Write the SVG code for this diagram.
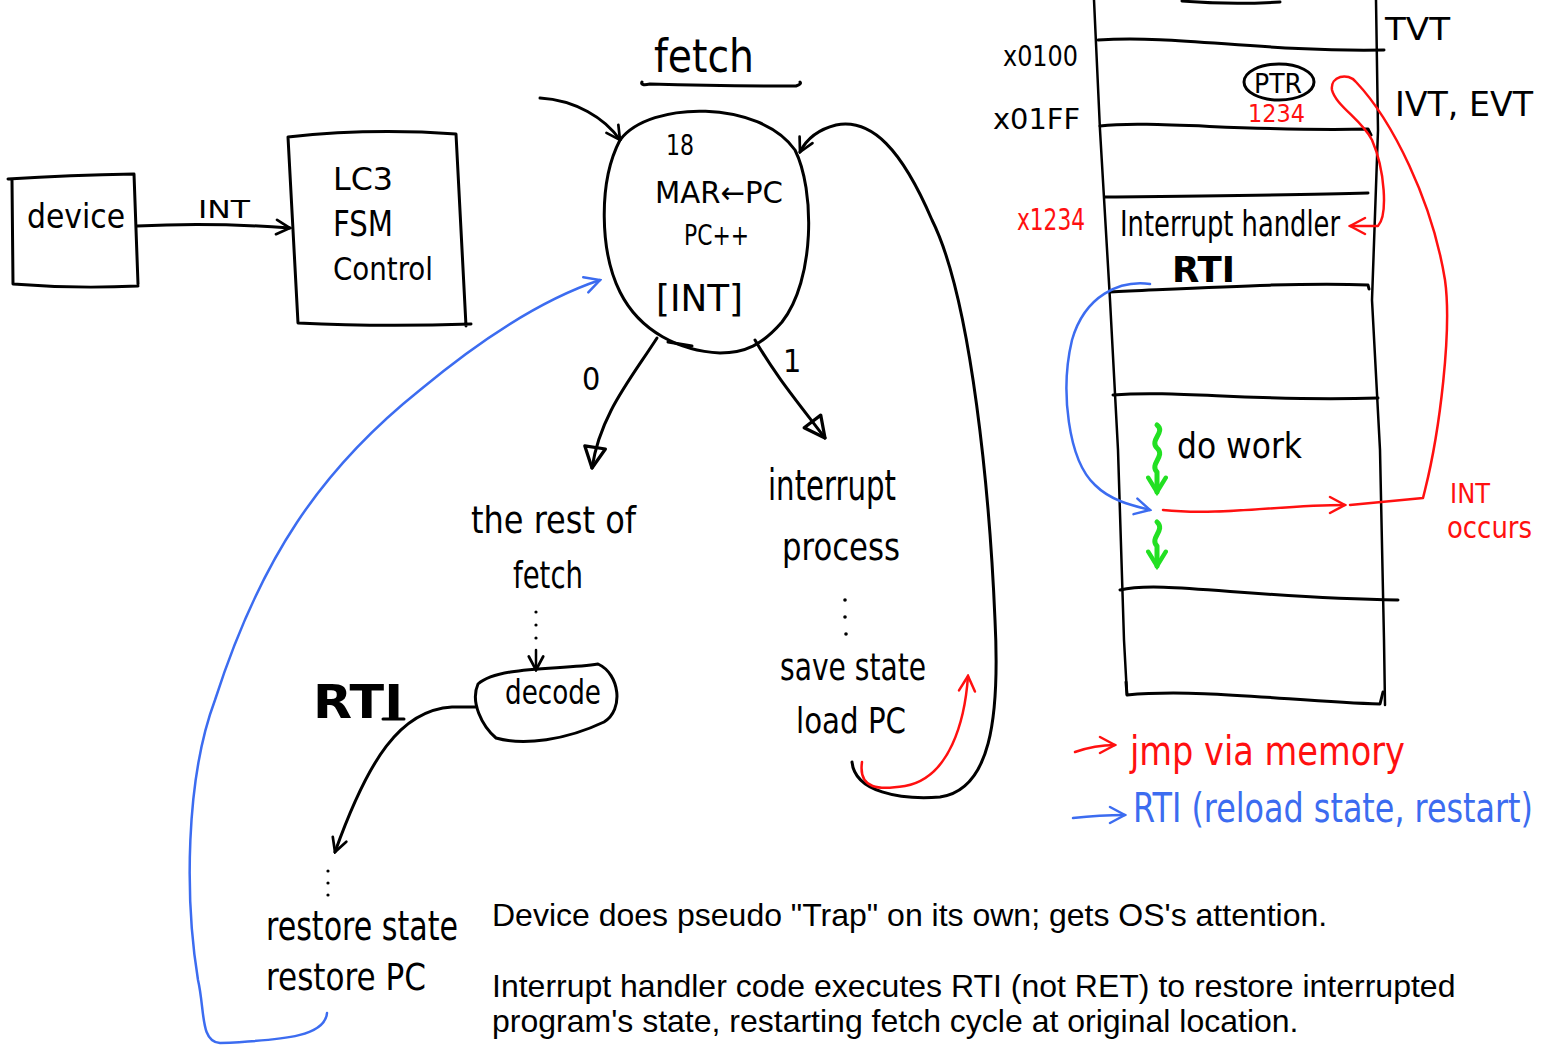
<svg xmlns="http://www.w3.org/2000/svg" width="1567" height="1046" viewBox="0 0 1567 1046">
  <defs>
    <style>
      .ink { fill: none; stroke: #000; stroke-width: 3; stroke-linecap: round; stroke-linejoin: round; }
      .thin { fill: none; stroke: #000; stroke-width: 2.5; stroke-linecap: round; stroke-linejoin: round; }
      .red { fill: none; stroke: #ff1010; stroke-width: 2.5; stroke-linecap: round; stroke-linejoin: round; }
      .blue { fill: none; stroke: #3c6cf0; stroke-width: 2.5; stroke-linecap: round; stroke-linejoin: round; }
      .green { fill: none; stroke: #22e022; stroke-width: 5; stroke-linecap: round; stroke-linejoin: round; }
      .dot { fill: #000; }
      .hand { font-family: "DejaVu Sans Condensed", "Liberation Sans", sans-serif; fill: #000; }
      .handr { font-family: "DejaVu Sans Condensed", "Liberation Sans", sans-serif; fill: #ff1010; }
      .handb { font-family: "DejaVu Sans Condensed", "Liberation Sans", sans-serif; fill: #3c6cf0; }
      .bold { font-weight: bold; }
      .typed { font-family: "Liberation Sans", Arial, sans-serif; font-size: 32px; fill: #000; }
    </style>
    <marker id="ah" viewBox="0 0 20 20" refX="18" refY="10" markerWidth="18" markerHeight="18" markerUnits="userSpaceOnUse" orient="auto">
      <path d="M3,2 L18,10 L3,18" fill="none" stroke="#000" stroke-width="3" stroke-linecap="round"/>
    </marker>
    <marker id="tri" viewBox="0 0 20 20" refX="18" refY="10" markerWidth="26" markerHeight="26" markerUnits="userSpaceOnUse" orient="auto">
      <path d="M2,2 L18,10 L2,18 Z" fill="none" stroke="#000" stroke-width="2.5" stroke-linejoin="round"/>
    </marker>
    <marker id="ahr" viewBox="0 0 20 20" refX="18" refY="10" markerWidth="20" markerHeight="20" markerUnits="userSpaceOnUse" orient="auto">
      <path d="M3,2 L18,10 L3,18" fill="none" stroke="#ff1010" stroke-width="2.5" stroke-linecap="round"/>
    </marker>
    <marker id="ahb" viewBox="0 0 20 20" refX="18" refY="10" markerWidth="20" markerHeight="20" markerUnits="userSpaceOnUse" orient="auto">
      <path d="M3,2 L18,10 L3,18" fill="none" stroke="#3c6cf0" stroke-width="2.5" stroke-linecap="round"/>
    </marker>
    <marker id="ahg" viewBox="0 0 20 20" refX="16" refY="10" markerWidth="22" markerHeight="22" markerUnits="userSpaceOnUse" orient="auto">
      <path d="M3,2 L16,10 L3,18" fill="none" stroke="#22e022" stroke-width="4" stroke-linecap="round"/>
    </marker>
  </defs>

  <rect width="1567" height="1046" fill="#fff"/>

  <!-- device box -->
  <g id="device">
    <path class="ink" d="M 8 179 Q 70 175 134 174 L 138 284 M 12 180 L 13 284 Q 75 289 138 286"/>
    <text class="hand" x="27" y="228" font-size="34" textLength="98" lengthAdjust="spacingAndGlyphs">device</text>
  </g>

  <!-- LC3 FSM control box -->
  <g id="lc3">
    <path class="ink" d="M 288 137 Q 370 128 456 134 L 466 326 M 288 137 L 298 323 Q 380 327 471 324"/>
    <text class="hand" x="333" y="190" font-size="32" textLength="60" lengthAdjust="spacingAndGlyphs">LC3</text>
    <text class="hand" x="333" y="236" font-size="36" textLength="60" lengthAdjust="spacingAndGlyphs">FSM</text>
    <text class="hand" x="333" y="280" font-size="32" textLength="100" lengthAdjust="spacingAndGlyphs">Control</text>
  </g>

  <!-- fetch state -->
  <g id="fetch">
    <text class="hand" x="654" y="72" font-size="46" textLength="100" lengthAdjust="spacingAndGlyphs">fetch</text>
    <path class="ink" d="M 642 82 Q 640 86 650 84 Q 720 86 796 86 Q 802 84 800 82"/>
    <path class="ink" d="M 620 140 C 650 100, 760 100, 795 150 C 815 190, 815 280, 782 322 C 762 345, 745 353, 720 353 C 680 351, 640 332, 620 292 C 600 252, 598 182, 620 140 Z"/>
    <path class="ink" d="M 668 342 L 692 346"/>
    <text class="hand" x="666" y="155" font-size="28" textLength="28" lengthAdjust="spacingAndGlyphs">18</text>
    <text class="hand" x="655" y="203" font-size="30" textLength="128" lengthAdjust="spacingAndGlyphs">MAR←PC</text>
    <text class="hand" x="684" y="245" font-size="28" textLength="65" lengthAdjust="spacingAndGlyphs">PC++</text>
    <text class="hand" x="656" y="311" font-size="38" textLength="87" lengthAdjust="spacingAndGlyphs">[INT]</text>
  </g>

  <!-- branch labels and follow-on states -->
  <g id="branch0">
    <text class="hand" x="582" y="390" font-size="32">0</text>
    <text class="hand" x="471" y="533" font-size="38" textLength="165" lengthAdjust="spacingAndGlyphs">the rest of</text>
    <text class="hand" x="513" y="588" font-size="38" textLength="70" lengthAdjust="spacingAndGlyphs">fetch</text>
  </g>

  <g id="branch1">
    <text class="hand" x="783" y="372" font-size="32">1</text>
    <text class="hand" x="768" y="500" font-size="42" textLength="128" lengthAdjust="spacingAndGlyphs">interrupt</text>
    <text class="hand" x="782" y="560" font-size="38" textLength="118" lengthAdjust="spacingAndGlyphs">process</text>
    <circle class="dot" cx="845" cy="600" r="1.8"/>
    <circle class="dot" cx="845" cy="617" r="1.8"/>
    <circle class="dot" cx="846" cy="634" r="1.8"/>
    <text class="hand" x="780" y="680" font-size="38" textLength="146" lengthAdjust="spacingAndGlyphs">save state</text>
    <text class="hand" x="796" y="733" font-size="36" textLength="110" lengthAdjust="spacingAndGlyphs">load PC</text>
  </g>

  <g id="decode">
    <path class="ink" d="M 478 684 C 498 666, 560 670, 598 664 C 620 674, 624 710, 604 722 C 566 740, 524 746, 496 738 C 482 726, 470 702, 478 684 Z"/>
    <text class="hand" x="505" y="704" font-size="34" textLength="96" lengthAdjust="spacingAndGlyphs">decode</text>
  </g>

  <g id="rti-label">
    <text class="hand bold" x="313" y="718" font-size="46" textLength="90" lengthAdjust="spacingAndGlyphs">RTI</text>
    <path class="ink" d="M 383 719 L 404 719"/>
  </g>

  <g id="restore">
    <circle class="dot" cx="328" cy="871" r="1.6"/>
    <circle class="dot" cx="328" cy="883" r="1.6"/>
    <circle class="dot" cx="328" cy="895" r="1.6"/>
    <text class="hand" x="266" y="940" font-size="40" textLength="192" lengthAdjust="spacingAndGlyphs">restore state</text>
    <text class="hand" x="266" y="990" font-size="38" textLength="160" lengthAdjust="spacingAndGlyphs">restore PC</text>
  </g>

  <!-- explanatory notes -->
  <g id="notes">
    <text class="typed" x="492" y="926">Device does pseudo "Trap" on its own; gets OS's attention.</text>
    <text class="typed" x="492" y="997">Interrupt handler code executes RTI (not RET) to restore interrupted</text>
    <text class="typed" x="492" y="1032">program's state, restarting fetch cycle at original location.</text>
  </g>

  <!-- memory map -->
  <g id="memory">
    <path class="thin" d="M 1094 0 L 1100 130 L 1110 300 L 1118 450 L 1124 640 L 1127 695"/>
    <path class="thin" d="M 1376 0 L 1378 130 L 1372 300 L 1380 450 L 1384 640 L 1385 705"/>
    <path class="ink" d="M 1182 1 Q 1230 5 1280 2"/>
    <path class="ink" d="M 1098 40 C 1180 35, 1260 52, 1384 50"/>
    <path class="ink" d="M 1100 126 C 1150 120, 1250 132, 1368 129 L 1371 135"/>
    <path class="ink" d="M 1105 197 C 1200 196, 1300 195, 1368 193"/>
    <path class="ink" d="M 1110 292 C 1200 288, 1300 282, 1368 285 L 1369 289"/>
    <path class="ink" d="M 1113 395 C 1180 390, 1250 402, 1378 398"/>
    <path class="ink" d="M 1120 590 C 1160 580, 1250 598, 1398 600"/>
    <path class="ink" d="M 1126 682 L 1127 695 C 1200 688, 1300 702, 1380 704 L 1383 692"/>
    <text class="hand" x="1003" y="66" font-size="28" textLength="75" lengthAdjust="spacingAndGlyphs">x0100</text>
    <text class="hand" x="993" y="129" font-size="28" textLength="87" lengthAdjust="spacingAndGlyphs">x01FF</text>
    <text class="hand" x="1385" y="40" font-size="32" textLength="65" lengthAdjust="spacingAndGlyphs">TVT</text>
    <text class="hand" x="1395" y="116" font-size="34" textLength="138" lengthAdjust="spacingAndGlyphs">IVT, EVT</text>
    <ellipse class="ink" cx="1279" cy="82" rx="35" ry="18"/>
    <text class="hand" x="1254" y="93" font-size="26" textLength="48" lengthAdjust="spacingAndGlyphs">PTR</text>
    <text class="handr" x="1248" y="122" font-size="24" textLength="57" lengthAdjust="spacingAndGlyphs">1234</text>
    <text class="handr" x="1017" y="230" font-size="30" textLength="68" lengthAdjust="spacingAndGlyphs">x1234</text>
    <text class="hand" x="1120" y="236" font-size="36" textLength="220" lengthAdjust="spacingAndGlyphs">Interrupt handler</text>
    <text class="hand bold" x="1172" y="282" font-size="36" textLength="63" lengthAdjust="spacingAndGlyphs">RTI</text>
    <text class="hand" x="1177" y="458" font-size="36" textLength="125" lengthAdjust="spacingAndGlyphs">do work</text>
    <text class="handr" x="1450" y="503" font-size="26" textLength="40" lengthAdjust="spacingAndGlyphs">INT</text>
    <text class="handr" x="1447" y="538" font-size="30" textLength="85" lengthAdjust="spacingAndGlyphs">occurs</text>
  </g>

  <!-- legend -->
  <g id="legend">
    <text class="handr" x="1130" y="765" font-size="40" textLength="275" lengthAdjust="spacingAndGlyphs">jmp via memory</text>
    <text class="handb" transform="translate(1133 822) scale(1 1.18)" x="0" y="0" font-size="34" textLength="400" lengthAdjust="spacingAndGlyphs">RTI (reload state, restart)</text>
  </g>

  <!-- connectors -->
  <g id="connectors">
    <text class="hand" x="198" y="218" font-size="24" textLength="52" lengthAdjust="spacingAndGlyphs">INT</text>
    <path class="ink" d="M 137 226 Q 210 222 290 228" marker-end="url(#ah)"/>
    <path class="ink" d="M 540 98 C 575 100, 605 118, 620 140" marker-end="url(#ah)"/>
    <path class="ink" d="M 852 762 C 855 792, 900 800, 940 797 C 990 790, 1000 720, 995 620 C 990 500, 972 300, 932 220 C 902 150, 872 118, 836 125 C 816 130, 806 140, 800 152" marker-end="url(#ah)"/>
    <path class="ink" d="M 657 338 C 630 380, 600 415, 592 468" marker-end="url(#tri)"/>
    <path class="ink" d="M 755 340 C 775 375, 800 405, 825 438" marker-end="url(#tri)"/>
    <circle class="dot" cx="536" cy="612" r="1.6"/>
    <circle class="dot" cx="536" cy="625" r="1.6"/>
    <circle class="dot" cx="536" cy="638" r="1.6"/>
    <path class="thin" d="M 536 650 L 536 670" marker-end="url(#ah)"/>
    <path class="ink" d="M 475 707 L 452 707 C 400 710, 368 760, 335 852" marker-end="url(#ah)"/>
    <path class="red" d="M 862 762 C 858 790, 880 790, 905 786 C 950 778, 965 720, 968 676" marker-end="url(#ahr)"/>
    <path class="blue" d="M 327 1013 C 325 1035, 290 1040, 220 1043 C 200 1042, 205 1010, 198 980 C 185 900, 185 780, 215 700 C 260 560, 320 470, 420 390 C 480 340, 540 300, 600 280" marker-end="url(#ahb)"/>
    <path class="red" d="M 1163 510 C 1220 516, 1280 505, 1345 505" marker-end="url(#ahr)"/>
    <path class="red" d="M 1350 505 L 1423 498 L 1425 490 C 1440 430, 1452 330, 1445 280 C 1432 200, 1392 120, 1356 82 C 1348 72, 1330 76, 1332 90 C 1336 106, 1362 120, 1372 140 C 1385 170, 1388 215, 1378 226 L 1350 226" marker-end="url(#ahr)"/>
    <path class="blue" d="M 1150 284 C 1120 280, 1085 295, 1072 340 C 1060 390, 1068 460, 1095 485 C 1110 500, 1130 505, 1150 510" marker-end="url(#ahb)"/>
    <path class="green" d="M 1157 425 C 1166 432, 1149 440, 1157 448 C 1166 456, 1149 464, 1157 472 L 1157 492" marker-end="url(#ahg)"/>
    <path class="green" d="M 1157 522 C 1166 530, 1149 538, 1157 546 L 1157 566" marker-end="url(#ahg)"/>
    <path class="red" d="M 1075 752 Q 1095 745 1115 745" marker-end="url(#ahr)"/>
    <path class="blue" d="M 1073 818 Q 1100 815 1125 815" marker-end="url(#ahb)"/>
  </g>
</svg>
